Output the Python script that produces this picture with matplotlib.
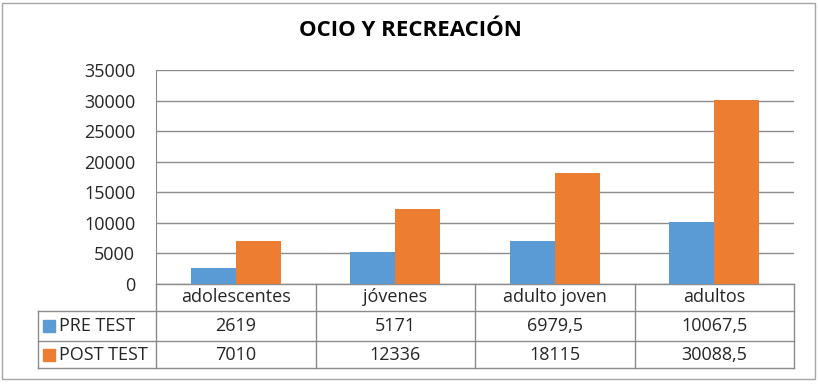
import matplotlib.pyplot as plt
import matplotlib.transforms as mtransforms
from matplotlib.patches import Rectangle
import numpy as np

plt.rcParams['font.family'] = ['Open Sans', 'DejaVu Sans']

# data
categories = ['adolescentes', 'jóvenes', 'adulto joven', 'adultos']
series_names = ['PRE TEST', 'POST TEST']
pre_test = [2619, 5171, 6979.5, 10067.5]
post_test = [7010, 12336, 18115, 30088.5]
pre_labels = ['2619', '5171', '6979,5', '10067,5']
post_labels = ['7010', '12336', '18115', '30088,5']

blue = '#5B9BD5'
orange = '#ED7D31'
grid_c = '#8c8c8c'
text_c = '#262626'

W, H = 819, 384
fig = plt.figure(figsize=(W / 100, H / 100), dpi=100)

# outer border
fig.add_artist(Rectangle((2 / W, 5 / H), 813 / W, 376 / H, transform=fig.transFigure,
                         fill=False, edgecolor='#a6a6a6', linewidth=1))

# plot area in pixel coordinates
left, right, top, bottom = 156, 794, 70, 284
ax = fig.add_axes([left / W, 1 - bottom / H, (right - left) / W, (bottom - top) / H])

x = np.arange(len(categories))
bw = 0.283
ax.bar(x - bw / 2, pre_test, bw, color=blue, zorder=3)
ax.bar(x + bw / 2, post_test, bw, color=orange, zorder=3)

ax.set_xlim(-0.5, len(categories) - 0.5)
ax.set_ylim(0, 35000)
ax.set_yticks(np.arange(0, 35001, 5000))
ax.tick_params(axis='y', length=0, pad=15, labelsize=13, labelcolor=text_c)
ax.set_xticks([])
ax.grid(axis='y', color=grid_c, linewidth=1, zorder=0)
for s in ['top', 'right', 'bottom']:
    ax.spines[s].set_visible(False)
ax.spines['left'].set_color(grid_c)

fig.text(410 / W, 1 - 31 / H, 'OCIO Y RECREACIÓN', fontsize=16, fontweight='bold',
         color='black', ha='center', va='center')

# data table under the axes
trans = mtransforms.blended_transform_factory(ax.transData, ax.transAxes)
ph = bottom - top
row_px = [0, 27, 57, 84]
rows = [-r / ph for r in row_px]
x0, x1 = -0.5, len(categories) - 0.5
xl = x0 - 118 / 159.5
lkw = dict(color=grid_c, linewidth=1, transform=trans, clip_on=False)

# horizontal lines
ax.plot([x0, x1], [rows[0], rows[0]], **lkw)
for r in rows[1:]:
    ax.plot([xl, x1], [r, r], **lkw)
# vertical lines
for b in np.arange(x0, x1 + 0.01, 1):
    ax.plot([b, b], [rows[0], rows[3]], **lkw)
ax.plot([xl, xl], [rows[1], rows[3]], **lkw)

tkw = dict(transform=trans, clip_on=False, ha='center', va='center', fontsize=13, color=text_c)
for i, c in enumerate(categories):
    ax.text(i, (rows[0] + rows[1]) / 2, c, **tkw)
for j, (name, labels, col) in enumerate(zip(series_names, [pre_labels, post_labels], [blue, orange])):
    yc = (rows[j + 1] + rows[j + 2]) / 2
    for i, v in enumerate(labels):
        ax.text(i, yc, v, **tkw)
    ax.add_patch(Rectangle((xl + 5 / 159.5, yc - 6 / ph), 12 / 159.5, 12 / ph,
                           transform=trans, clip_on=False, color=col))
    ax.text(xl + 21 / 159.5, yc, name, transform=trans, clip_on=False, ha='left', va='center',
            fontsize=13, color=text_c)

fig.savefig('out.png', dpi=100)
